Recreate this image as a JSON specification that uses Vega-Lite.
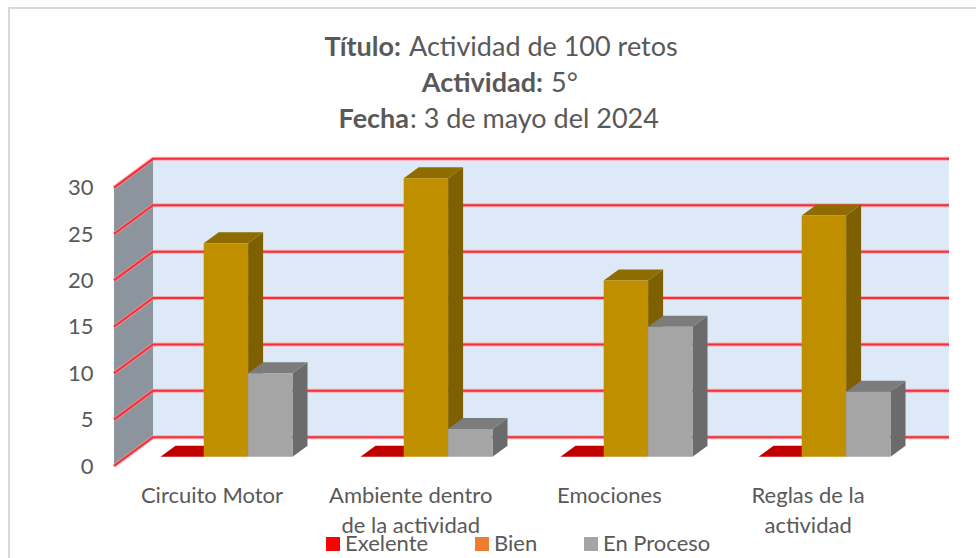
{
"$schema":"https://vega.github.io/schema/vega-lite/v6.json",
"width":835,"height":308,
"padding":{"left":114,"top":158,"right":27,"bottom":92},
"autosize":"none",
"background":"white",
"config":{"view":{"stroke":null},"text":{"font":"Lato","color":"#595959"}},
"data":{"values":[
{"category":"Circuito Motor","series":"Exelente","value":0},
{"category":"Circuito Motor","series":"Bien","value":23},
{"category":"Circuito Motor","series":"En Proceso","value":9},
{"category":"Ambiente dentro\nde la actividad","series":"Exelente","value":0},
{"category":"Ambiente dentro\nde la actividad","series":"Bien","value":30},
{"category":"Ambiente dentro\nde la actividad","series":"En Proceso","value":3},
{"category":"Emociones","series":"Exelente","value":0},
{"category":"Emociones","series":"Bien","value":19},
{"category":"Emociones","series":"En Proceso","value":14},
{"category":"Reglas de la\nactividad","series":"Exelente","value":0},
{"category":"Reglas de la\nactividad","series":"Bien","value":26},
{"category":"Reglas de la\nactividad","series":"En Proceso","value":7}
]},
"transform":[
{"calculate":"indexof(['Circuito Motor','Ambiente dentro\\nde la actividad','Emociones','Reglas de la\\nactividad'],datum.category)","as":"slot"},
{"calculate":"indexof(['Exelente','Bien','En Proceso'],datum.series)","as":"pos"},
{"calculate":"[0,200,400,598][datum.slot]","as":"sl"},
{"calculate":"datum.pos==0?46.5+datum.sl:89.7+datum.sl+44.4*(datum.pos-1)","as":"x0"},
{"calculate":"89.7+datum.sl+44.4*datum.pos","as":"x1"},
{"calculate":"datum.value+1","as":"top"}
],
"resolve":{"scale":{"color":"independent"}},
"layer":[
{"data":{"values":[{"series":"Exelente"},{"series":"Bien"},{"series":"En Proceso"}]},
 "mark":{"type":"point","filled":true,"shape":"square","size":10,"opacity":1},
 "encoding":{
  "x":{"datum":100,"type":"quantitative","scale":{"domain":[0,835],"range":[0,835],"nice":false,"zero":false},"axis":null},
  "y":{"datum":10,"type":"quantitative","scale":{"domain":[0,33.19],"nice":false,"zero":false},
   "axis":{"values":[0,5,10,15,20,25,30],"title":null,"domain":false,"ticks":false,"grid":false,"labelFont":"Lato","labelFontSize":22,"labelColor":"#595959","labelPadding":21}},
  "color":{"field":"series","type":"nominal","scale":{"domain":["Exelente","Bien","En Proceso"],"range":["#FF0000","#ED7D31","#A5A5A5"]},
   "legend":{"orient":"none","legendX":208,"legendY":375,"direction":"horizontal","title":null,"symbolType":"square","symbolSize":196,"symbolStrokeWidth":0,"symbolOpacity":1,"labelFont":"Lato","labelFontSize":22,"labelColor":"#595959","columnPadding":42,"labelOffset":1,"columns":3}}
 }},
{"data":{"values":[{}]},
 "mark":{"type":"rect","filled":false,"stroke":"#D9D9D9","strokeWidth":2,"opacity":1},
 "encoding":{"x":{"datum":-105,"type":"quantitative"},"x2":{"datum":900},"y":{"datum":49.35,"type":"quantitative"},"y2":{"datum":-20}}},
{"data":{"values":[{}]},
 "mark":{"type":"rect","fill":"#DEE9F7","opacity":1},
 "encoding":{"x":{"datum":39,"type":"quantitative"},"x2":{"datum":835},"y":{"datum":3.1,"type":"quantitative"},"y2":{"datum":33.1}}},
{"data":{"values":[{"t":0},{"t":1}]},
 "transform":[{"calculate":"39*datum.t","as":"wx"},{"calculate":"3.1*datum.t","as":"wy"},{"calculate":"30+3.1*datum.t","as":"wy2"}],
 "mark":{"type":"area","orient":"vertical","fill":"#8C959D","opacity":1},
 "encoding":{"x":{"field":"wx","type":"quantitative"},"y":{"field":"wy","type":"quantitative","stack":null},"y2":{"field":"wy2"}}},
{"data":{"values":[{"v":0},{"v":5},{"v":10},{"v":15},{"v":20},{"v":25},{"v":30}]},
 "transform":[{"calculate":"[0,1,2]","as":"t"},{"flatten":["t"]},{"calculate":"datum.t==0?0:datum.t==1?39:835","as":"gx"},{"calculate":"datum.v+(datum.t==0?0:3.1)","as":"gy"}],
 "mark":{"type":"line","stroke":"#FF8F96","strokeWidth":4,"strokeOpacity":0.7},
 "encoding":{"x":{"field":"gx","type":"quantitative"},"y":{"field":"gy","type":"quantitative"},"detail":{"field":"v"}}},
{"data":{"values":[{"v":0},{"v":5},{"v":10},{"v":15},{"v":20},{"v":25},{"v":30}]},
 "transform":[{"calculate":"[0,1,2]","as":"t"},{"flatten":["t"]},{"calculate":"datum.t==0?0:datum.t==1?39:835","as":"gx"},{"calculate":"datum.v+(datum.t==0?0:3.1)","as":"gy"}],
 "mark":{"type":"line","stroke":"#F2303A","strokeWidth":2},
 "encoding":{"x":{"field":"gx","type":"quantitative"},"y":{"field":"gy","type":"quantitative"},"detail":{"field":"v"}}},
{"transform":[{"filter":"datum.value>0"},{"calculate":"[0,1]","as":"t"},{"flatten":["t"]},{"calculate":"datum.x1+15*datum.t","as":"sx"},{"calculate":"1+1.18*datum.t","as":"sy0"},{"calculate":"datum.top+1.18*datum.t","as":"sy1"}],
 "mark":{"type":"area","orient":"vertical","opacity":1},
 "encoding":{"x":{"field":"sx","type":"quantitative"},"y":{"field":"sy0","type":"quantitative","stack":null},"y2":{"field":"sy1"},"detail":{"field":"slot"},
  "color":{"field":"series","type":"nominal","scale":{"domain":["Bien","En Proceso"],"range":["#7F6000","#6B6B6B"]},"legend":null}}},
{"transform":[{"calculate":"[0,1]","as":"t"},{"flatten":["t"]},{"calculate":"datum.x0+15*datum.t","as":"tx0"},{"calculate":"datum.x1+15*datum.t","as":"tx1"},{"calculate":"datum.top+1.18*datum.t","as":"ty"}],
 "mark":{"type":"area","orient":"horizontal","opacity":1},
 "encoding":{"y":{"field":"ty","type":"quantitative","stack":null},"x":{"field":"tx0","type":"quantitative"},"x2":{"field":"tx1"},"detail":{"field":"slot"},
  "color":{"field":"series","type":"nominal","scale":{"domain":["Exelente","Bien","En Proceso"],"range":["#C00000","#8F6C00","#7C7C7C"]},"legend":null}}},
{"transform":[{"filter":"datum.value>0"}],
 "mark":{"type":"rect","opacity":1},
 "encoding":{"x":{"field":"x0","type":"quantitative"},"x2":{"field":"x1"},"y":{"field":"top","type":"quantitative"},"y2":{"datum":1},
  "color":{"field":"series","type":"nominal","scale":{"domain":["Bien","En Proceso"],"range":["#BF8F00","#A5A5A5"]},"legend":null}}},
{"transform":[{"filter":"datum.series=='Exelente'"},{"calculate":"98+198.7*datum.slot","as":"lx"}],
 "mark":{"type":"text","fontSize":22,"baseline":"top","align":"center","lineBreak":"\n","lineHeight":30},
 "encoding":{"x":{"field":"lx","type":"quantitative"},"y":{"datum":-2.2,"type":"quantitative"},"text":{"field":"category"}}},
{"data":{"values":[{}]},"mark":{"type":"text","fontSize":27,"fontWeight":"bold","align":"right","baseline":"middle"},"encoding":{"x":{"datum":287,"type":"quantitative"},"y":{"datum":45.05,"type":"quantitative"},"text":{"value":"Título:"}}},
{"data":{"values":[{}]},"mark":{"type":"text","fontSize":27,"align":"left","baseline":"middle"},"encoding":{"x":{"datum":295,"type":"quantitative"},"y":{"datum":45.05,"type":"quantitative"},"text":{"value":"Actividad de 100 retos"}}},
{"data":{"values":[{}]},"mark":{"type":"text","fontSize":27,"fontWeight":"bold","align":"right","baseline":"middle"},"encoding":{"x":{"datum":429,"type":"quantitative"},"y":{"datum":41.17,"type":"quantitative"},"text":{"value":"Actividad:"}}},
{"data":{"values":[{}]},"mark":{"type":"text","fontSize":27,"align":"left","baseline":"middle"},"encoding":{"x":{"datum":437,"type":"quantitative"},"y":{"datum":41.17,"type":"quantitative"},"text":{"value":"5°"}}},
{"data":{"values":[{}]},"mark":{"type":"text","fontSize":27,"fontWeight":"bold","align":"right","baseline":"middle"},"encoding":{"x":{"datum":295,"type":"quantitative"},"y":{"datum":37.29,"type":"quantitative"},"text":{"value":"Fecha"}}},
{"data":{"values":[{}]},"mark":{"type":"text","fontSize":27,"align":"left","baseline":"middle"},"encoding":{"x":{"datum":296,"type":"quantitative"},"y":{"datum":37.29,"type":"quantitative"},"text":{"value":": 3 de mayo del 2024"}}}
]
}
